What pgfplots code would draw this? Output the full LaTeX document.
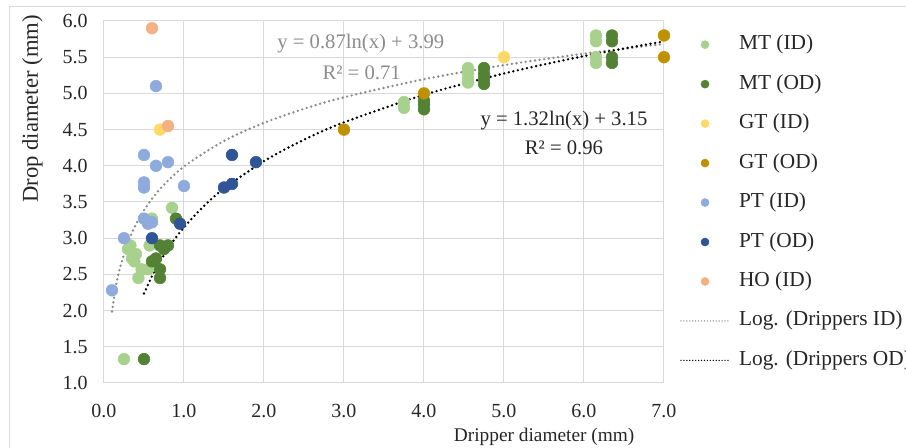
\documentclass[border=0pt]{standalone}
\usepackage{fontspec}
\setmainfont{Liberation Serif}
\usepackage{pgfplots}
\pgfplotsset{compat=1.18}
\definecolor{mtid}{HTML}{A9D18E}
\definecolor{mtod}{HTML}{548235}
\definecolor{gtid}{HTML}{FFD966}
\definecolor{gtod}{HTML}{BF9000}
\definecolor{ptid}{HTML}{8FAADC}
\definecolor{ptod}{HTML}{2F5597}
\definecolor{hoid}{HTML}{F4B183}
\definecolor{gridc}{HTML}{D9D9D9}
\definecolor{trgray}{HTML}{8C8C8C}
\begin{document}
\begin{tikzpicture}
\useasboundingbox (-78pt,-48.75pt) rectangle (601.5pt,287.25pt);
\begin{axis}[
  width=420pt, height=271.5pt, scale only axis,
  xmin=0, xmax=7, ymin=1, ymax=6,
  xtick={0,1,2,3,4,5,6,7},
  ytick={1,1.5,2,2.5,3,3.5,4,4.5,5,5.5,6},
  grid=major, grid style={draw=gridc, line width=0.75pt},
  axis line style={draw=gridc, line width=0.75pt},
  major tick length=0pt,
  tick label style={font=\fontsize{15}{18}\selectfont, text=black!85},
  /pgf/number format/fixed, /pgf/number format/fixed zerofill,
  /pgf/number format/precision=1, /pgf/number format/assume math mode=true,
  yticklabel style={inner sep=0pt, xshift=-12pt},
  xticklabel style={inner sep=0pt, yshift=-15.5pt},
  xlabel={Dripper diameter (mm)},
  ylabel={Drop diameter (mm)},
  xlabel style={font=\fontsize{14.5}{17}\selectfont, text=black!85, at={(axis description cs:0.786,-0.149)}, anchor=center},
  ylabel style={font=\fontsize{17}{20}\selectfont, text=black!85, at={(axis description cs:-0.128,0.757)}, anchor=center},
  legend image code/.code={\draw[mark repeat=2,mark phase=2,#1,mark size=3pt] plot coordinates {(0pt,0pt)(18pt,0pt)(36pt,0pt)};},
  legend cell align=left,
  legend style={draw=none, fill=none, at={(1.0286,0.962)}, anchor=north west,
    inner sep=0pt, row sep=15.1pt,
    nodes={inner sep=0pt, text height=11pt, text depth=3.5pt, font=\fontsize{16}{19}\selectfont, text=black!85},
    /tikz/every odd column/.append style={column sep=7pt}},
  every axis plot/.append style={only marks, mark=*, mark size=4.4pt},
]
\addplot[mtid, mark options={draw=mtid, fill=mtid}] coordinates {
 (0.25,1.33) (0.33,2.9) (0.3,2.85) (0.35,2.72) (0.4,2.78) (0.38,2.68)
 (0.43,2.45) (0.47,2.57) (0.55,2.57) (0.57,2.9) (0.6,3.27) (0.85,3.42)
 (3.75,4.88) (3.75,4.8)
 (4.55,5.35) (4.55,5.28) (4.55,5.2) (4.55,5.15)
 (6.15,5.8) (6.15,5.72) (6.15,5.5) (6.15,5.42)};
\addlegendentry{MT (ID)}
\addplot[mtod, mark options={draw=mtod, fill=mtod}] coordinates {
 (0.5,1.33) (0.9,3.27) (0.8,2.9) (0.7,2.9) (0.75,2.85) (0.65,2.72)
 (0.6,2.68) (0.7,2.57) (0.7,2.45)
 (4.0,4.9) (4.0,4.85) (4.0,4.78)
 (4.75,5.35) (4.75,5.27) (4.75,5.2) (4.75,5.13)
 (6.35,5.8) (6.35,5.72) (6.35,5.5) (6.35,5.42)};
\addlegendentry{MT (OD)}
\addplot[gtid, mark options={draw=gtid, fill=gtid}] coordinates {(0.7,4.5) (5.0,5.5)};
\addlegendentry{GT (ID)}
\addplot[gtod, mark options={draw=gtod, fill=gtod}] coordinates {(3.0,4.5) (4.0,5.0) (7.0,5.8) (7.0,5.5)};
\addlegendentry{GT (OD)}
\addplot[ptid, mark options={draw=ptid, fill=ptid}] coordinates {
 (0.65,5.1) (0.5,4.15) (0.65,4.0) (0.8,4.05) (0.5,3.77) (0.5,3.7) (1.0,3.72)
 (0.5,3.27) (0.6,3.22) (0.55,3.2) (0.25,3.0) (0.1,2.28)};
\addlegendentry{PT (ID)}
\addplot[ptod, mark options={draw=ptod, fill=ptod}] coordinates {
 (0.6,3.0) (0.95,3.2) (1.5,3.7) (1.6,3.75) (1.6,4.15) (1.9,4.05)};
\addlegendentry{PT (OD)}
\addplot[hoid, mark options={draw=hoid, fill=hoid}] coordinates {(0.6,5.9) (0.8,4.55)};
\addlegendentry{HO (ID)}
\addplot[trgray, no marks, sharp plot, smooth, line width=2pt, line cap=round, dash pattern=on 0pt off 3.5pt,
  legend image post style={line width=1.1pt, dash pattern=on 0pt off 2.2pt}] coordinates {
 (0.1,1.987) (0.15,2.340) (0.2,2.590) (0.3,2.943) (0.4,3.193) (0.5,3.387)
 (0.7,3.680) (1.0,3.990) (1.5,4.343) (2,4.593) (2.5,4.787) (3,4.946)
 (4,5.196) (5,5.390) (6,5.549) (7,5.683)};
\addlegendentry{Log. (Drippers ID)}
\addplot[black, no marks, sharp plot, smooth, line width=2pt, line cap=round, dash pattern=on 0pt off 3.5pt,
  legend image post style={line width=1.1pt, dash pattern=on 0pt off 2.2pt}] coordinates {
 (0.5,2.235) (0.6,2.476) (0.7,2.679) (0.85,2.935) (1.0,3.150) (1.25,3.445)
 (1.5,3.685) (2,4.065) (2.5,4.360) (3,4.600) (4,4.980) (5,5.275)
 (6,5.515) (7,5.719)};
\addlegendentry{Log. (Drippers OD)}
\node[font=\fontsize{15.5}{18}\selectfont, text=trgray] at (axis cs:3.21,5.695) {y = 0.87ln(x) + 3.99};
\node[font=\fontsize{15.5}{18}\selectfont, text=trgray] at (axis cs:3.22,5.29) {R² = 0.71};
\node[font=\fontsize{15.5}{18}\selectfont, text=black!85] at (axis cs:5.75,4.63) {y = 1.32ln(x) + 3.15};
\node[font=\fontsize{15.5}{18}\selectfont, text=black!85] at (axis cs:5.75,4.255) {R² = 0.96};
\end{axis}
\draw[gridc, line width=0.75pt] (-70.5pt,-48.75pt) -- (-70.5pt,282pt) -- (601.5pt,282pt);
\end{tikzpicture}
\end{document}
